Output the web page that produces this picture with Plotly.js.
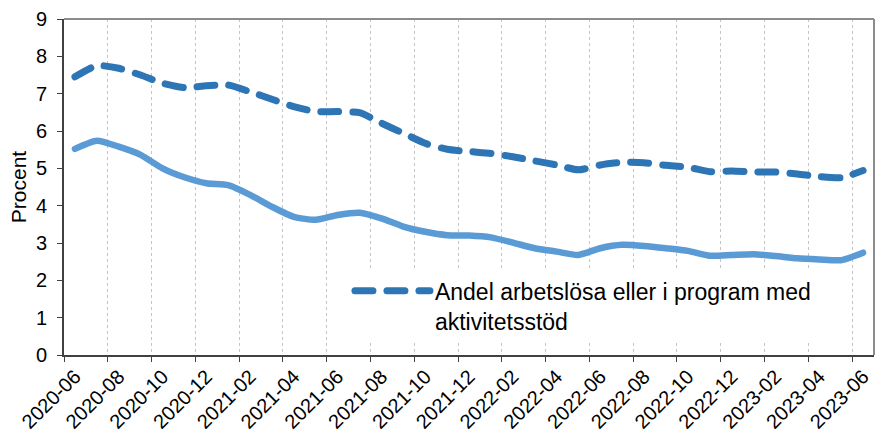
<!DOCTYPE html>
<html>
<head>
<meta charset="utf-8">
<script src="https://cdn.plot.ly/plotly-3.0.1.min.js"></script>
<style>
  html, body { margin: 0; padding: 0; background: #fff; }
  #chart { width: 879px; height: 437px; }
  .js-line { stroke-linecap: round; stroke-linejoin: round; }
</style>
</head>
<body>
<div id="chart"></div>
<script>
// Months (categories)
const months = [
  "2020-06","2020-07","2020-08","2020-09","2020-10","2020-11","2020-12",
  "2021-01","2021-02","2021-03","2021-04","2021-05","2021-06","2021-07",
  "2021-08","2021-09","2021-10","2021-11","2021-12","2022-01","2022-02",
  "2022-03","2022-04","2022-05","2022-06","2022-07","2022-08","2022-09",
  "2022-10","2022-11","2022-12","2023-01","2023-02","2023-03","2023-04",
  "2023-05","2023-06"
];
// Dashed series: Andel arbetslösa eller i program med aktivitetsstöd
const andelProgram = [
  7.45, 7.75, 7.68, 7.50, 7.28, 7.16, 7.21, 7.23, 7.05, 6.85,
  6.65, 6.52, 6.52, 6.49, 6.21, 5.94, 5.67, 5.51, 5.45, 5.40,
  5.31, 5.20, 5.09, 4.96, 5.09, 5.16, 5.15, 5.08, 5.03, 4.91,
  4.93, 4.90, 4.90, 4.85, 4.78, 4.75, 4.94
];
// Solid series (no legend entry)
const andelArbetslosa = [
  5.52, 5.74, 5.58, 5.36, 5.00, 4.76, 4.60, 4.55, 4.29, 3.97,
  3.70, 3.62, 3.75, 3.81, 3.66, 3.44, 3.30, 3.21, 3.20, 3.15,
  3.01, 2.86, 2.77, 2.68, 2.86, 2.95, 2.92, 2.86, 2.79, 2.66,
  2.68, 2.70, 2.65, 2.59, 2.56, 2.54, 2.74
];
const legendName = "Andel arbetslösa eller i program med<br>aktivitetsstöd";
const yTicks = [0,1,2,3,4,5,6,7,8,9];

const idx = months.map((m, i) => i);
const labelIdx = idx.filter(i => i % 2 === 0);
const labelText = labelIdx.map(i => months[i]);
const boundaryVals = labelIdx.map(i => i - 0.5);

const FONT = "Liberation Sans, Arial, sans-serif";

const traces = [
  {
    x: idx, y: andelArbetslosa, type: "scatter", mode: "lines",
    line: { color: "#5B9BD5", width: 6.5, shape: "spline", smoothing: 0.6 },
    showlegend: false, hoverinfo: "x+y"
  },
  {
    x: idx, y: andelProgram, type: "scatter", mode: "lines",
    name: legendName,
    line: { color: "#2E75B6", width: 7, dash: "18px,14px", shape: "spline", smoothing: 0.6 }
  }
];

const layout = {
  width: 879, height: 437,
  margin: { l: 64, r: 5, t: 19, b: 82, pad: 0 },
  paper_bgcolor: "#fff", plot_bgcolor: "#fff",
  font: { family: FONT, size: 20, color: "#000" },
  showlegend: true,
  legend: {
    x: 0.353, y: 0.255, xanchor: "left", yanchor: "top",
    bgcolor: "#fff", borderwidth: 0,
    font: { family: FONT, size: 23, color: "#000" },
    itemwidth: 75, valign: "top", tracegroupgap: 0
  },
  xaxis: {
    type: "linear", range: [-0.5, 36.5], fixedrange: true,
    tickmode: "array", tickvals: labelIdx, ticktext: labelText,
    tickangle: -45, ticks: "", showgrid: false, zeroline: false,
    showline: true, linecolor: "#404040", linewidth: 2,
    tickfont: { family: FONT, size: 20, color: "#000" },
    minor: {
      tickmode: "array", tickvals: boundaryVals,
      ticks: "outside", ticklen: 5, tickwidth: 1, tickcolor: "#404040",
      showgrid: true, gridcolor: "#C4C4C4", gridwidth: 1, griddash: "dot"
    }
  },
  yaxis: {
    range: [0, 9], fixedrange: true,
    tickmode: "array", tickvals: yTicks,
    ticks: "outside", ticklen: 5, tickwidth: 1, tickcolor: "#404040",
    showgrid: false, zeroline: false,
    showline: true, linecolor: "#404040", linewidth: 2,
    tickfont: { family: FONT, size: 20, color: "#000" },
    ticklabelstandoff: 6,
    title: { text: "Procent", font: { family: FONT, size: 21, color: "#000" }, standoff: 4 }
  },
  shapes: [
    { type: "line", xref: "paper", yref: "paper", x0: 0, x1: 1, y0: 1, y1: 1,
      line: { color: "#8C8C8C", width: 2 } },
    { type: "line", xref: "paper", yref: "paper", x0: 1, x1: 1, y0: 0, y1: 1,
      line: { color: "#8C8C8C", width: 2 } }
  ]
};

Plotly.newPlot("chart", traces, layout, { displayModeBar: false, staticPlot: true });
</script>
</body>
</html>
